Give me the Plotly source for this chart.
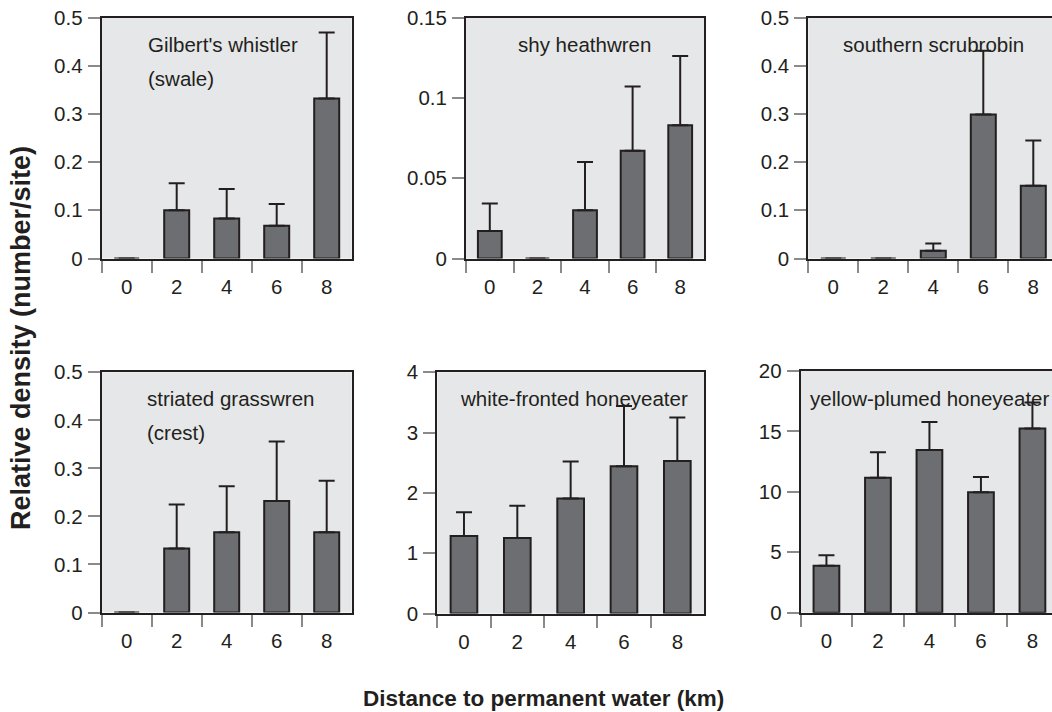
import plotly.graph_objects as go

W, H = 1052, 712

distance_km = ["0", "2", "4", "6", "8"]

gilberts_whistler = [0.0, 0.100, 0.083, 0.068, 0.332]
gilberts_whistler_upper = [None, 0.156, 0.144, 0.113, 0.469]

shy_heathwren = [0.0171, 0.0, 0.030, 0.067, 0.083]
shy_heathwren_upper = [0.0342, None, 0.060, 0.107, 0.126]

southern_scrubrobin = [0.0, 0.0, 0.016, 0.299, 0.151]
southern_scrubrobin_upper = [None, None, 0.031, 0.431, 0.245]

striated_grasswren = [0.0, 0.133, 0.167, 0.232, 0.167]
striated_grasswren_upper = [None, 0.225, 0.263, 0.356, 0.274]

white_fronted_honeyeater = [1.287, 1.254, 1.906, 2.44, 2.53]
white_fronted_honeyeater_upper = [1.68, 1.785, 2.52, 3.44, 3.25]

yellow_plumed_honeyeater = [3.88, 11.16, 13.46, 9.97, 15.24]
yellow_plumed_honeyeater_upper = [4.76, 13.27, 15.79, 11.22, 17.40]

INK = "#231f20"
BAR = "#6d6e71"
PANEL_BG = "#e6e7e8"
TICK = "#8a8a8a"
FONT = "Liberation Sans, Arial, sans-serif"

# pixel boxes of each panel: left, right, top, bottom, x-range end, y max, y step
panels = [
    dict(v=gilberts_whistler, up=gilberts_whistler_upper,
         box=(101.7, 351.7, 17.5, 258.5), xend=4.5, ymax=0.5, dt=0.1, right=True),
    dict(v=shy_heathwren, up=shy_heathwren_upper,
         box=(466.0, 704.0, 17.5, 258.5), xend=4.5, ymax=0.15, dt=0.05, right=True),
    dict(v=southern_scrubrobin, up=southern_scrubrobin_upper,
         box=(808.3, 1052.0, 17.5, 258.5), xend=4.374, ymax=0.5, dt=0.1, right=False),
    dict(v=striated_grasswren, up=striated_grasswren_upper,
         box=(101.7, 351.7, 372.3, 612.5), xend=4.5, ymax=0.5, dt=0.1, right=True),
    dict(v=white_fronted_honeyeater, up=white_fronted_honeyeater_upper,
         box=(437.3, 704.0, 372.3, 613.5), xend=4.5, ymax=4, dt=1, right=True),
    dict(v=yellow_plumed_honeyeater, up=yellow_plumed_honeyeater_upper,
         box=(800.7, 1052.0, 371.0, 612.7), xend=4.38, ymax=20, dt=5, right=False),
]

fig = go.Figure()
layout = {}

for i, p in enumerate(panels, start=1):
    sfx = "" if i == 1 else str(i)
    left, right, top, bottom = p["box"]
    plus = [(u - v) if u is not None else None for u, v in zip(p["up"], p["v"])]
    fig.add_trace(go.Bar(
        x=distance_km, y=p["v"], width=0.5,
        marker=dict(color=BAR, line=dict(color=INK, width=2)),
        error_y=dict(type="data", symmetric=False, array=plus,
                     arrayminus=[0] * len(plus), color=INK, thickness=2, width=8),
        xaxis="x" + sfx, yaxis="y" + sfx, showlegend=False, hoverinfo="skip",
    ))
    layout["xaxis" + sfx] = dict(
        domain=[left / W, right / W], anchor="y" + sfx, type="category",
        range=[-0.5, p["xend"]], tickson="boundaries", ticks="outside",
        ticklen=12, tickwidth=1.5, tickcolor=TICK, ticklabelstandoff=9,
        showline=True, linecolor=INK, linewidth=2, mirror=True,
        showgrid=False, zeroline=False, fixedrange=True, automargin=False,
        tickfont=dict(family=FONT, size=20.5, color=INK),
    )
    layout["yaxis" + sfx] = dict(
        domain=[1 - bottom / H, 1 - top / H], anchor="x" + sfx,
        range=[0, p["ymax"]], dtick=p["dt"], tick0=0, ticks="outside",
        ticklen=12, tickwidth=1.5, tickcolor=TICK, ticklabelstandoff=1,
        showline=True, linecolor=INK, linewidth=2, mirror=p["right"],
        showgrid=False, zeroline=False, fixedrange=True, automargin=False,
        tickfont=dict(family=FONT, size=20.5, color=INK),
    )

bg_shapes = []
for i, p in enumerate(panels, start=1):
    sfx = "" if i == 1 else str(i)
    bg_shapes.append(dict(
        type="rect", xref="x" + sfx + " domain", yref="y" + sfx + " domain",
        x0=0, x1=1, y0=0, y1=1, fillcolor=PANEL_BG, line=dict(width=0),
        layer="below",
    ))


def label(text, x, y, xanchor="left", size=20.5):
    return dict(text=text, x=x / W, y=1 - y / H, xref="paper", yref="paper",
                xanchor=xanchor, yanchor="middle", showarrow=False,
                font=dict(family=FONT, size=size, color=INK))


annotations = [
    label("Gilbert's whistler", 146, 45),
    label("(swale)", 146, 78),
    label("shy heathwren", 584.7, 45, "center"),
    label("southern scrubrobin", 933, 45, "center"),
    label("striated grasswren", 145, 398),
    label("(crest)", 145, 432),
    label("white-fronted honeyeater", 574, 398, "center"),
    label("yellow-plumed honeyeater", 929, 398, "center"),
    dict(text="<b>Distance to permanent water (km)</b>", x=543.5 / W, y=1 - 698 / H,
         xref="paper", yref="paper", xanchor="center", yanchor="middle",
         showarrow=False, font=dict(family=FONT, size=22.5, color=INK)),
    dict(text="<b>Relative density (number/site)</b>", x=21 / W, y=1 - 338 / H,
         xref="paper", yref="paper", xanchor="center", yanchor="middle",
         textangle=-90, showarrow=False, font=dict(family=FONT, size=27, color=INK)),
]

fig.update_layout(
    template="none",
    width=W, height=H, margin=dict(l=0, r=0, t=0, b=0, autoexpand=False),
    paper_bgcolor="white", plot_bgcolor="rgba(0,0,0,0)",
    bargap=0.5, shapes=bg_shapes, annotations=annotations,
    font=dict(family=FONT, color=INK), showlegend=False,
    **layout,
)

fig.write_html("out.html", config={"displayModeBar": False})
